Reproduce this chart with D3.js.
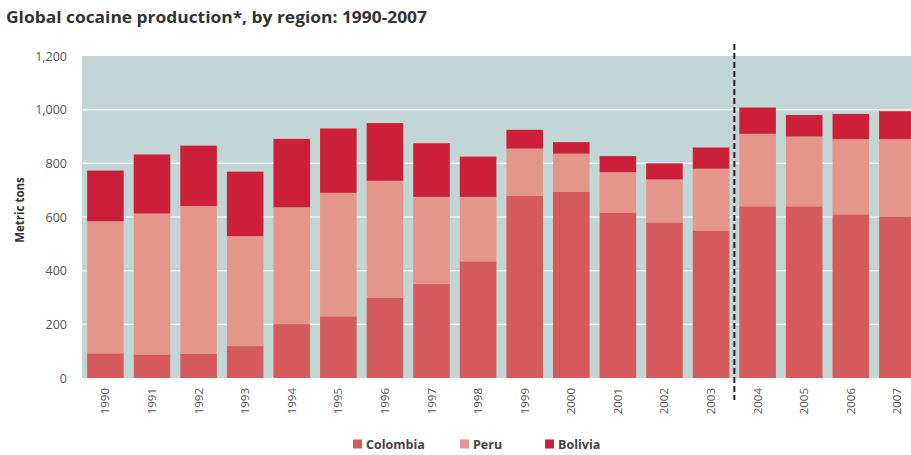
<!DOCTYPE html>
<html>
<head>
<meta charset="utf-8">
<script src="https://cdn.jsdelivr.net/npm/d3@7"></script>
<style>
  html, body { margin: 0; padding: 0; background: #ffffff; }
  svg { display: block; }
  text { font-family: "Open Sans", "DejaVu Sans", sans-serif; }
</style>
</head>
<body>
<svg id="chart" width="911" height="455"></svg>
<script>
// Global cocaine production by region, metric tons
const years = ["1990","1991","1992","1993","1994","1995","1996","1997","1998",
               "1999","2000","2001","2002","2003","2004","2005","2006","2007"];
const colombia = [92, 88, 91, 119, 201, 230, 300, 350, 435, 680, 695, 617, 580, 550, 640, 640, 610, 600];
const peru     = [492, 525, 550, 410, 435, 460, 435, 325, 240, 175, 141, 150, 160, 230, 270, 260, 280, 290];
const bolivia  = [189, 220, 225, 240, 255, 240, 215, 200, 150, 70, 43, 60, 60, 79, 98, 80, 94, 104];
const seriesNames = ["Colombia", "Peru", "Bolivia"];
const seriesColors = ["#d55a5c", "#e5968b", "#cc1f3a"];
const yTicks = [0, 200, 400, 600, 800, 1000, 1200];
const breakAfter = "2003";

const svg = d3.select("#chart");
const W = 911, H = 455;
const plot = { left: 82, right: 911, top: 56, bottom: 378 };

const rows = years.map((y, i) => ({ year: y, Colombia: colombia[i], Peru: peru[i], Bolivia: bolivia[i] }));
const stacked = d3.stack().keys(seriesNames)(rows);

const x = d3.scaleBand()
  .domain(years)
  .range([plot.left, plot.left + 18 * 46.6])
  .paddingInner(0.215)
  .paddingOuter(0.11);

const y = d3.scaleLinear().domain([0, 1200]).range([plot.bottom, plot.top]);

// Title
svg.append("text")
  .attr("x", 6).attr("y", 23)
  .attr("font-size", 16.5).attr("font-weight", "bold")
  .attr("fill", "#333")
  .attr("textLength", 421).attr("lengthAdjust", "spacingAndGlyphs")
  .text("Global cocaine production*, by region: 1990-2007");

// Plot background
svg.append("rect")
  .attr("x", plot.left).attr("y", plot.top)
  .attr("width", plot.right - plot.left).attr("height", plot.bottom - plot.top)
  .attr("fill", "#c3d6d6");

// Gridlines
svg.append("g")
  .selectAll("line")
  .data(yTicks.filter(t => t > 0 && t < 1200))
  .join("line")
  .attr("x1", plot.left).attr("x2", plot.right)
  .attr("y1", d => y(d)).attr("y2", d => y(d))
  .attr("stroke", "#eef4f4").attr("stroke-width", 1.5);

// Stacked bars
svg.append("clipPath").attr("id", "plotclip")
  .append("rect").attr("x", plot.left).attr("y", 0)
  .attr("width", plot.right - plot.left).attr("height", H);

svg.append("g").attr("clip-path", "url(#plotclip)")
  .selectAll("g")
  .data(stacked)
  .join("g")
  .attr("fill", (d, i) => seriesColors[i])
  .selectAll("rect")
  .data(d => d)
  .join("rect")
  .attr("x", d => x(d.data.year))
  .attr("width", x.bandwidth())
  .attr("y", d => y(d[1]))
  .attr("height", d => y(d[0]) - y(d[1]));

// Y axis
const yAxis = svg.append("g")
  .attr("transform", `translate(${plot.left},0)`)
  .call(d3.axisLeft(y).tickValues(yTicks).tickFormat(d3.format(",")).tickSize(0).tickPadding(15));
yAxis.select(".domain").remove();
yAxis.selectAll("text")
  .attr("font-size", 12.5).attr("fill", "#555")
  .style("font-family", "'Open Sans', 'DejaVu Sans', sans-serif");

svg.append("text")
  .attr("transform", `translate(24,210) rotate(-90)`)
  .attr("text-anchor", "middle")
  .attr("font-size", 11.5).attr("font-weight", "bold").attr("fill", "#333")
  .text("Metric tons");

// X axis labels (rotated)
const xAxis = svg.append("g")
  .attr("transform", `translate(0,${plot.bottom})`)
  .call(d3.axisBottom(x).tickSize(0).tickPadding(0));
xAxis.select(".domain").remove();
xAxis.selectAll("text")
  .attr("font-size", 11.5).attr("fill", "#555")
  .style("font-family", "'Open Sans', 'DejaVu Sans', sans-serif")
  .attr("text-anchor", "end")
  .attr("dy", "0.35em")
  .attr("transform", "translate(0,10) rotate(-90)")
  .attr("x", 0).attr("y", 0);

// Dashed separator between estimate periods
const sepX = (x(breakAfter) + x.bandwidth() + x(years[years.indexOf(breakAfter) + 1])) / 2;
svg.append("line")
  .attr("x1", sepX).attr("x2", sepX)
  .attr("y1", 44).attr("y2", 400)
  .attr("stroke", "#222").attr("stroke-width", 2)
  .attr("stroke-dasharray", "6,3");

// Legend
const legendItems = [
  { name: "Colombia", x: 353 },
  { name: "Peru", x: 460 },
  { name: "Bolivia", x: 545 }
];
const lg = svg.append("g").selectAll("g")
  .data(legendItems)
  .join("g")
  .attr("transform", d => `translate(${d.x},444)`);
lg.append("rect")
  .attr("x", 0).attr("y", -4.5).attr("width", 9).attr("height", 9)
  .attr("fill", (d, i) => seriesColors[i]);
lg.append("text")
  .attr("x", 13).attr("y", 4.5)
  .attr("font-size", 12.5).attr("font-weight", "bold").attr("fill", "#444")
  .text(d => d.name);
</script>
</body>
</html>
